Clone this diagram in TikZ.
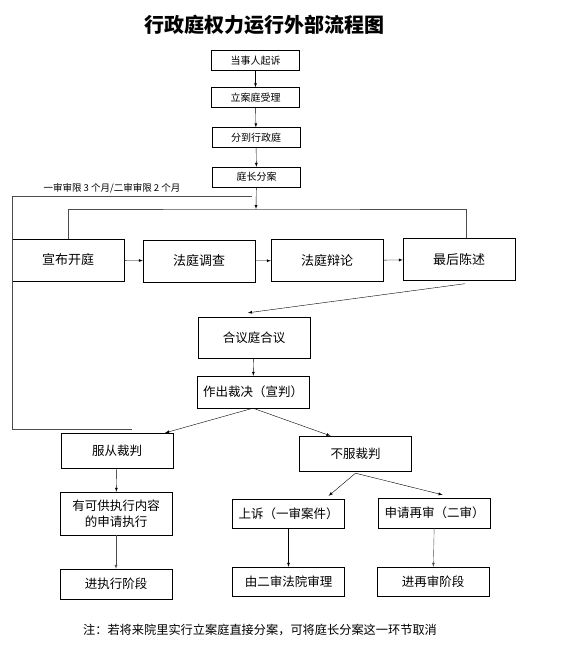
\documentclass[tikz,border=0pt]{standalone}
\usepackage{fontspec}
\setmainfont{Noto Sans CJK SC}
\usepackage{tikz}
\usetikzlibrary{arrows, positioning}

\begin{document}
\begin{tikzpicture}[x=1pt, y=-1pt, >=latex,
  box/.style={draw, inner sep=0pt, align=center, minimum width=112pt, font=\fontsize{12.5}{16}\selectfont},
  topbox/.style={box, minimum width=88pt, minimum height=20pt, font=\fontsize{10}{12}\selectfont},
  rowbox/.style={box, minimum height=42pt, font=\fontsize{13}{16}\selectfont},
  bar/.style={draw=black!70, line width=0.9pt}]

\useasboundingbox (0,0) rectangle (576,664);

% title
\node (title) at (264, 25) {\fontsize{20}{24}\selectfont\bfseries 行政庭权力运行外部流程图};

% nodes
\node[topbox] (sue) at (255.5, 60.5) {当事人起诉};
\node[topbox] (accept) at (255.5, 97.5) {立案庭受理};
\node[topbox] (assign) at (256, 137.5) {分到行政庭};
\node[topbox] (divide) at (256.5, 177) {庭长分案};

\node[rowbox] (open) at (68, 260) {宣布开庭};
\node[rowbox] (probe) at (199, 261) {法庭调查};
\node[rowbox] (debate) at (327, 260.5) {法庭辩论};
\node[rowbox] (final) at (459, 259.5) {最后陈述};

\node[box, minimum height=41pt] (council) at (254, 337.5) {合议庭合议};
\node[box, minimum height=32pt] (verdict) at (253, 392) {作出裁决（宣判）};

\node[box, minimum height=35pt] (obey) at (117, 450.5) {服从裁判};
\node[box, minimum height=35pt] (refuse) at (355.5, 453.5) {不服裁判};

\node[box, minimum height=43pt] (apply) at (116, 513.5) {有可供执行内容\\的申请执行};
\node[box, minimum height=30pt] (exec) at (116, 584) {进执行阶段};

\node[box, minimum height=29pt] (appeal) at (288.5, 513.5) {上诉（一审案件）};
\node[box, minimum height=30pt] (retrial) at (434.5, 513) {申请再审（二审）};
\node[box, minimum height=29pt] (second) at (288.5, 581.5) {由二审法院审理};
\node[box, minimum height=29pt] (reenter) at (433, 581.5) {进再审阶段};

\coordinate (hub) at (256, 209);
\coordinate (limA) at (252, 196);
\coordinate (limB) at (132, 429);

% time limit
\node[font=\fontsize{9.5}{11}\selectfont] (limit) at (112, 188) {一审审限 3 个月/二审审限 2 个月};
\draw[bar] (limA) -| (12, 429) -- (limB);

% arrows
\draw [->] (sue) -- (accept);
\draw [->] (accept) -- (assign);
\draw [->] (assign) -- (divide);
\draw [->] (divide) -- (hub);
\draw [bar] (open.north) |- (hub) -| ([xshift=7pt]final.north);

\draw [->] (open) -- (probe);
\draw [->] (probe) -- (debate);
\draw [->] (debate) -- (final);

\draw [->] ([xshift=6pt, yshift=-3pt]final.south) -- ([xshift=-6pt, yshift=4pt]council.north);
\draw [->] (council) -- (verdict);
\draw [->] (verdict.south) -- ([xshift=-8pt]obey.north east);
\draw [->] (verdict.south) -- ([xshift=-25pt]refuse.north);

\draw [->] (obey) -- (apply);
\draw [->, black!70] (apply) -- (exec);

\draw [->] ([yshift=-2pt]refuse.south) -- ([xshift=-16pt, yshift=3pt]appeal.north east);
\draw [->] ([yshift=-2pt]refuse.south) -- ([xshift=8pt, yshift=3pt]retrial.north);
\draw [->] (appeal) -- (second);
\draw [->, black!70] (retrial) -- (reenter);

% note
\node[font=\fontsize{12.2}{14}\selectfont] (note) at (260, 630) {注：若将来院里实行立案庭直接分案，可将庭长分案这一环节取消};

\end{tikzpicture}
\end{document}
